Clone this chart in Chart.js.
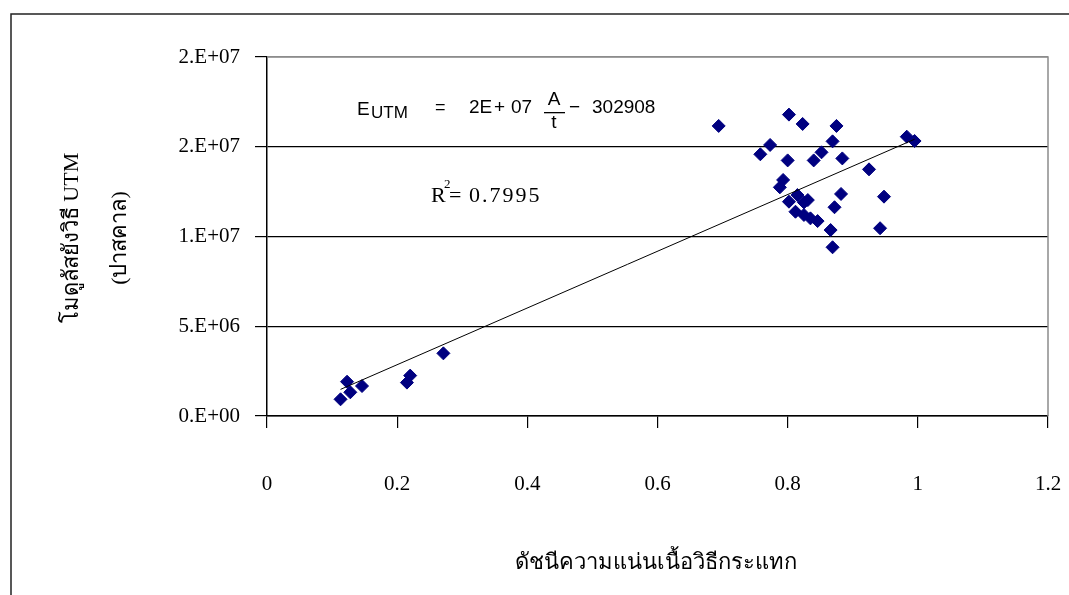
<!DOCTYPE html>
<html>
<head>
<meta charset="utf-8">
<script src="https://cdn.jsdelivr.net/npm/chart.js@4/dist/chart.umd.min.js"></script>
<style>
  html, body { margin: 0; padding: 0; background: #fff; }
  #wrap { width: 1069px; height: 595px; }
</style>
</head>
<body>
<div id="wrap"><canvas id="c" width="1069" height="595"></canvas></div>
<script>
// Impact firmness index (x) and UTM Young's modulus in Pa (y)
const firmnessIndex = [
  0.113, 0.123, 0.128, 0.146, 0.215, 0.220, 0.271,
  0.694, 0.802, 0.823, 0.875, 0.869, 0.773, 0.758, 0.800, 0.852, 0.840,
  0.884, 0.925, 0.793, 0.788, 0.815, 0.831, 0.825, 0.882, 0.948, 0.802,
  0.872, 0.812, 0.825, 0.835, 0.846, 0.866, 0.942, 0.869, 0.983, 0.995
];
const modulusUTM = [
  0.93e6, 1.91e6, 1.32e6, 1.67e6, 1.86e6, 2.25e6, 3.49e6,
  1.616e7, 1.679e7, 1.627e7, 1.616e7, 1.530e7, 1.510e7, 1.458e7, 1.424e7, 1.469e7, 1.424e7,
  1.435e7, 1.374e7, 1.315e7, 1.274e7, 1.231e7, 1.203e7, 1.190e7, 1.237e7, 1.222e7, 1.194e7,
  1.163e7, 1.138e7, 1.120e7, 1.101e7, 1.086e7, 1.036e7, 1.046e7, 0.940e7, 1.556e7, 1.532e7
];
const xTickLabels = ['0', '0.2', '0.4', '0.6', '0.8', '1', '1.2'];
const yTickLabels = ['0.E+00', '5.E+06', '1.E+07', '2.E+07', '2.E+07'];

// Linear trendline E = slope * (A/t) + intercept
const trendSlope = 1.58e7;
const trendIntercept = -302908;
const rSquared = '0.7995';

const xTitle = 'ดัชนีความแน่นเนื้อวิธีกระแทก';
const yTitleLines = ['โมดูลัสยังวิธี UTM', '(ปาสคาล)'];

const serif = "'Liberation Serif', 'Times New Roman', serif";
const sans = "'Liberation Sans', Arial, sans-serif";

const points = firmnessIndex.map((x, i) => ({ x, y: modulusUTM[i] }));
const xMin = Math.min(...firmnessIndex);
const xMax = Math.max(...firmnessIndex);
const trend = [xMin, xMax].map(x => ({ x, y: trendSlope * x + trendIntercept }));

const decorations = {
  id: 'decorations',
  beforeDraw(chart) {
    const ctx = chart.ctx;
    ctx.save();
    ctx.fillStyle = '#fff';
    ctx.fillRect(0, 0, chart.width, chart.height);
    // outer chart frame
    ctx.strokeStyle = '#222';
    ctx.lineWidth = 1.5;
    ctx.beginPath();
    ctx.moveTo(11, chart.height + 2);
    ctx.lineTo(11, 14);
    ctx.lineTo(chart.width + 2, 14);
    ctx.stroke();
    ctx.restore();
  },
  afterDatasetsDraw(chart) {
    const ctx = chart.ctx;
    const a = chart.chartArea;
    ctx.save();
    // plot area border (top and right)
    ctx.strokeStyle = '#8c8c8c';
    ctx.lineWidth = 1.5;
    ctx.beginPath();
    ctx.moveTo(a.left, a.top);
    ctx.lineTo(a.right, a.top);
    ctx.lineTo(a.right, a.bottom);
    ctx.stroke();

    ctx.fillStyle = '#000';
    // x axis title
    ctx.font = '22px ' + serif;
    ctx.textAlign = 'center';
    ctx.textBaseline = 'middle';
    ctx.fillText(xTitle, 656, 563);

    // y axis title, two rotated lines
    const yCenters = [72, 120];
    yTitleLines.forEach((line, i) => {
      ctx.save();
      ctx.translate(yCenters[i], 238);
      ctx.rotate(-Math.PI / 2);
      ctx.font = '22px ' + serif;
      ctx.textAlign = 'center';
      ctx.textBaseline = 'middle';
      ctx.fillText(line, 0, 0);
      ctx.restore();
    });

    // trendline equation
    ctx.textAlign = 'left';
    ctx.textBaseline = 'alphabetic';
    ctx.font = '19px ' + sans;
    ctx.fillText('E', 357, 115);
    ctx.font = '17px ' + sans;
    ctx.fillText('UTM', 371, 118);
    ctx.font = '18px ' + sans;
    ctx.fillText('=', 435, 113);
    ctx.font = '19px ' + sans;
    ctx.fillText('2E', 469, 113);
    ctx.fillText('+', 494, 113);
    ctx.fillText('07', 511, 113);
    ctx.textAlign = 'center';
    ctx.font = '19px ' + sans;
    ctx.fillText('A', 554, 105);
    ctx.fillText('t', 554, 128);
    ctx.fillRect(544, 112, 21, 1.3);
    ctx.textAlign = 'left';
    ctx.font = '19px ' + sans;
    ctx.fillText('\u2212', 569, 113);
    ctx.fillText(String(-trendIntercept), 592, 113);

    // coefficient of determination
    ctx.font = '22px ' + serif;
    ctx.fillText('R', 431, 202);
    ctx.font = '13px ' + serif;
    ctx.fillText('2', 444, 188);
    ctx.font = '22px ' + serif;
    ctx.fillText('=', 449, 202);
    ctx.letterSpacing = '2px';
    ctx.fillText(rSquared, 469, 202);
    ctx.restore();
  }
};

new Chart(document.getElementById('c'), {
  data: {
    datasets: [
      {
        type: 'scatter',
        data: points,
        pointStyle: 'rectRot',
        pointRadius: 6.5,
        pointHoverRadius: 6.5,
        backgroundColor: '#000080',
        borderColor: '#000080',
        borderWidth: 1,
        order: 2
      },
      {
        type: 'line',
        data: trend,
        borderColor: '#000',
        borderWidth: 1,
        pointRadius: 0,
        fill: false,
        order: 1
      }
    ]
  },
  options: {
    responsive: false,
    animation: false,
    devicePixelRatio: 1,
    layout: { padding: { left: 0, top: 57, right: 21, bottom: 0 } },
    plugins: { legend: { display: false }, tooltip: { enabled: false } },
    scales: {
      x: {
        type: 'linear',
        min: 0,
        max: 1.2,
        afterFit(s) { s.height = 179; s.paddingLeft = 0; s.paddingRight = 0; },
        afterBuildTicks(s) { s.ticks = xTickLabels.map((_, i) => ({ value: i * 0.2 })); },
        ticks: {
          callback: (v, i) => xTickLabels[i],
          font: { family: serif, size: 21 },
          color: '#000',
          padding: 44,
          maxRotation: 0
        },
        grid: { drawOnChartArea: false, drawTicks: true, tickLength: 12, tickColor: '#000', lineWidth: 1.2 },
        border: { display: true, color: '#000', width: 1.5 }
      },
      y: {
        min: 0,
        max: 2e7,
        afterFit(s) { s.width = 267; s.paddingTop = 0; s.paddingBottom = 0; },
        afterBuildTicks(s) { s.ticks = yTickLabels.map((_, i) => ({ value: i * 5e6 })); },
        ticks: {
          callback: (v, i) => yTickLabels[i],
          font: { family: serif, size: 21 },
          color: '#000',
          padding: 15
        },
        grid: {
          color: ctx => (ctx.tick && ctx.tick.value >= 2e7 ? '#8c8c8c' : '#000'),
          tickColor: '#000',
          tickLength: 12,
          lineWidth: 1.2
        },
        border: { display: true, color: '#000', width: 1.5 }
      }
    }
  },
  plugins: [decorations]
});
</script>
</body>
</html>
